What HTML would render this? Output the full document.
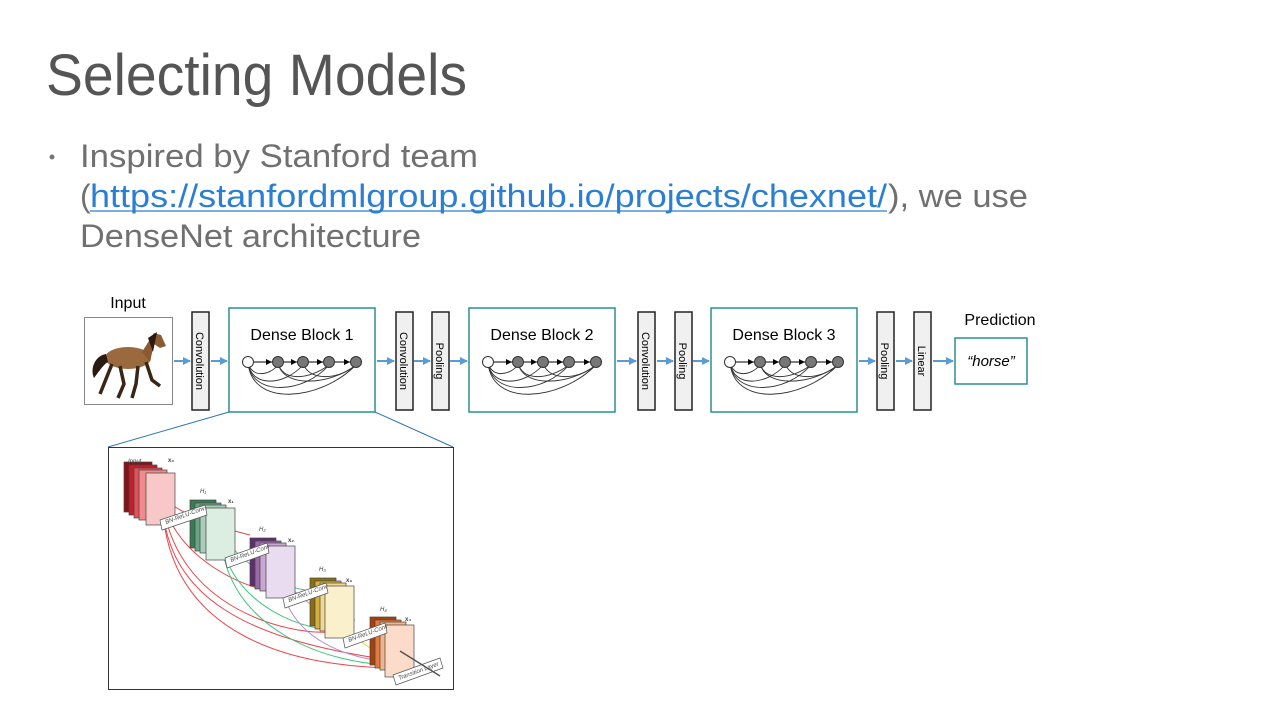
<!DOCTYPE html>
<html><head><meta charset="utf-8"><style>
html,body{margin:0;padding:0;background:#fff;}
svg{display:block;}
</style></head><body>
<svg width="1280" height="720" viewBox="0 0 1280 720" xmlns="http://www.w3.org/2000/svg" font-family="Liberation Sans, Arial, sans-serif">
<defs>
<marker id="ba" markerWidth="8" markerHeight="8" refX="7" refY="4" orient="auto" markerUnits="userSpaceOnUse"><path d="M0,0 L8,4 L0,8 z" fill="#5b9bd5"/></marker>
<marker id="ka" markerWidth="6" markerHeight="6" refX="6" refY="3" orient="auto" markerUnits="userSpaceOnUse"><path d="M0,0 L6,3 L0,6 z" fill="#000"/></marker>
<g id="dg">
  <g fill="none" stroke="#333" stroke-width="0.9">
    <path d="M19,0 C22,45 90,40 127,3"/>
    <path d="M19,0 C22,35 75,32 100,3"/>
    <path d="M19,0 C22,26 55,24 74,3"/>
    <path d="M49,0 C52,26 100,24 127,3"/>
    <path d="M49,0 C52,20 80,18 100,3"/>
    <path d="M74,0 C78,20 110,18 127,3"/>
    <path d="M19,0 C22,16 40,14 49,3"/>
  </g>
  <g stroke="#000" stroke-width="1" marker-end="url(#ka)">
    <line x1="25" y1="0" x2="43" y2="0"/><line x1="55" y1="0" x2="68" y2="0"/><line x1="80" y1="0" x2="94" y2="0"/><line x1="106" y1="0" x2="121" y2="0"/>
  </g>
  <circle cx="19" cy="0" r="5.5" fill="#fff" stroke="#333"/>
  <circle cx="49" cy="0" r="5.5" fill="#777" stroke="#333"/>
  <circle cx="74" cy="0" r="5.5" fill="#777" stroke="#333"/>
  <circle cx="100" cy="0" r="5.5" fill="#777" stroke="#333"/>
  <circle cx="127" cy="0" r="5.5" fill="#777" stroke="#333"/>
</g>
</defs>

<text x="46" y="95" font-size="58" fill="#555" textLength="421" lengthAdjust="spacingAndGlyphs">Selecting Models</text>
<circle cx="52" cy="157" r="2.5" fill="#777"/>
<g font-size="32" fill="#707070">
<text x="80" y="167" textLength="398" lengthAdjust="spacingAndGlyphs">Inspired by Stanford team</text>
<text x="80" y="207">(</text>
<text x="90" y="207" fill="#2a7fd4" textLength="797" lengthAdjust="spacingAndGlyphs">https://stanfordmlgroup.github.io/projects/chexnet/</text>
<line x1="90" y1="211" x2="887" y2="211" stroke="#2a7fd4" stroke-width="1.2"/>
<text x="888" y="207" textLength="140" lengthAdjust="spacingAndGlyphs">), we use</text>
<text x="80" y="247" textLength="341" lengthAdjust="spacingAndGlyphs">DenseNet architecture</text>
</g>

<g stroke="#5b9bd5" stroke-width="2" marker-end="url(#ba)">
<line x1="174" y1="361" x2="190" y2="361"/>
<line x1="211" y1="361" x2="227" y2="361"/>
<line x1="377" y1="361" x2="394" y2="361"/>
<line x1="414" y1="361" x2="430" y2="361"/>
<line x1="450" y1="361" x2="467" y2="361"/>
<line x1="617" y1="361" x2="636" y2="361"/>
<line x1="657" y1="361" x2="673" y2="361"/>
<line x1="693" y1="361" x2="709" y2="361"/>
<line x1="859" y1="361" x2="875" y2="361"/>
<line x1="896" y1="361" x2="912" y2="361"/>
<line x1="933" y1="361" x2="953" y2="361"/>
</g>

<text x="128" y="308" font-size="16" text-anchor="middle" fill="#000">Input</text>
<rect x="84.5" y="317.5" width="88" height="87" fill="#fff" stroke="#888"/>
<g>
<ellipse cx="128" cy="358" rx="23" ry="11" fill="#9a6a3e"/>
<path d="M142,352 L154,333 L161,335 L166,346 L160,348 L154,344 L150,362 z" fill="#8a5a32"/>
<path d="M148,338 L157,332 L153,352 z" fill="#2a1a10"/>
<path d="M106,354 C94,356 90,370 94,378 C100,370 104,364 108,362 z" fill="#2a1a10"/>
<g stroke="#3a2516" stroke-width="3.5" fill="none">
<path d="M112,364 L104,384 L100,394"/>
<path d="M120,366 L124,384 L118,398"/>
<path d="M138,366 L136,384 L132,398"/>
<path d="M146,362 L152,380 L160,386"/>
</g>
</g>

<g fill="#f0f0f0" stroke="#222" stroke-width="1.5">
<rect x="192" y="312" width="17" height="98"/>
<rect x="396" y="312" width="17" height="98"/>
<rect x="432" y="312" width="17" height="98"/>
<rect x="638" y="312" width="17" height="98"/>
<rect x="675" y="312" width="17" height="98"/>
<rect x="877" y="312" width="17" height="98"/>
<rect x="914" y="312" width="17" height="98"/>
</g>
<g font-size="11" fill="#000">
<text transform="translate(196,361) rotate(90)" text-anchor="middle">Convolution</text>
<text transform="translate(400,361) rotate(90)" text-anchor="middle">Convolution</text>
<text transform="translate(436,361) rotate(90)" text-anchor="middle">Pooling</text>
<text transform="translate(642,361) rotate(90)" text-anchor="middle">Convolution</text>
<text transform="translate(679,361) rotate(90)" text-anchor="middle">Pooling</text>
<text transform="translate(881,361) rotate(90)" text-anchor="middle">Pooling</text>
<text transform="translate(918,361) rotate(90)" text-anchor="middle">Linear</text>
</g>

<g fill="#fff" stroke="#2a9191" stroke-width="1.5">
<rect x="229" y="308" width="146" height="104"/>
<rect x="469" y="308" width="146" height="104"/>
<rect x="711" y="308" width="146" height="104"/>
<rect x="955" y="338" width="72" height="46"/>
</g>
<g font-size="16" fill="#000" text-anchor="middle">
<text x="302" y="340">Dense Block 1</text>
<text x="542" y="340">Dense Block 2</text>
<text x="784" y="340">Dense Block 3</text>
<text x="1000" y="325">Prediction</text>
<text x="991" y="366" font-style="italic" font-size="15">“horse”</text>
</g>
<use href="#dg" x="229" y="362"/>
<use href="#dg" x="469" y="362"/>
<use href="#dg" x="711" y="362"/>

<line x1="229" y1="412" x2="108" y2="447" stroke="#2e75b6" stroke-width="1"/>
<line x1="375" y1="412" x2="453" y2="447" stroke="#2e75b6" stroke-width="1"/>
<rect x="108.5" y="447.5" width="345" height="242" fill="#fff" stroke="#333"/>

<g fill="none" stroke-width="1">
<g stroke="#e8464a">
<path d="M162,498 C190,520 230,530 250,535"/>
<path d="M162,498 C175,560 250,590 270,590"/>
<path d="M162,498 C175,610 290,635 330,632"/>
<path d="M162,498 C165,640 300,668 400,668"/>
<path d="M162,498 C165,600 250,640 390,660"/>
</g>
<g stroke="#3cc47a">
<path d="M221,535 C245,565 275,585 305,590"/>
<path d="M221,535 C225,590 280,625 330,630"/>
<path d="M221,535 C225,630 330,665 395,665"/>
</g>
<g stroke="#b48ac8">
<path d="M280,575 C300,600 320,615 355,620"/>
<path d="M280,575 C285,640 350,660 395,662"/>
</g>
<g stroke="#e8d23a">
<path d="M340,613 C355,645 380,655 400,660"/>
</g>
</g>

<g stroke="#444" stroke-width="0.7">
<g><rect x="124" y="462" width="28" height="50" fill="#8b0f16"/><rect x="129" y="465" width="28" height="50" fill="#c0202a"/><rect x="134" y="468" width="28" height="50" fill="#e25258"/><rect x="139" y="470" width="28" height="50" fill="#f08a8c"/><rect x="146" y="473" width="29" height="52" fill="#f8c8c8"/></g>
<g><rect x="190" y="500" width="26" height="48" fill="#3a7a55"/><rect x="195" y="503" width="26" height="48" fill="#6aa585"/><rect x="200" y="505" width="26" height="48" fill="#a8cdb8"/><rect x="206" y="508" width="29" height="52" fill="#dcede2"/></g>
<g><rect x="250" y="538" width="26" height="48" fill="#5e2e6e"/><rect x="255" y="541" width="26" height="48" fill="#9a6aa8"/><rect x="260" y="543" width="26" height="48" fill="#c8a8d2"/><rect x="266" y="546" width="29" height="52" fill="#eadcf0"/></g>
<g><rect x="310" y="578" width="26" height="48" fill="#8a6e10"/><rect x="315" y="581" width="26" height="48" fill="#d4b040"/><rect x="320" y="583" width="26" height="48" fill="#f0d890"/><rect x="325" y="586" width="29" height="52" fill="#fbf0cc"/></g>
<g><rect x="370" y="617" width="26" height="48" fill="#a8400c"/><rect x="375" y="620" width="26" height="48" fill="#e07a40"/><rect x="380" y="622" width="26" height="48" fill="#f4b48a"/><rect x="385" y="625" width="29" height="52" fill="#fcdcc8"/></g>
</g>
<g fill="#fff" stroke="#555" stroke-width="0.7">
<polygon points="160,520 205,505 207,515 162,530"/>
<polygon points="225,558 267,543 269,553 227,568"/>
<polygon points="283,598 326,583 328,593 285,608"/>
<polygon points="343,638 385,623 387,633 345,648"/>
<polygon points="393,675 440,658 443,668 396,685"/>
</g>
<line x1="400" y1="651" x2="440" y2="676" stroke="#555" stroke-width="1.5"/>
<g font-size="6" fill="#444" font-style="italic">
<text x="128" y="463">Input</text><text x="168" y="462" font-weight="bold" font-style="normal">x₀</text>
<text x="200" y="493">H₁</text><text x="228" y="503" font-weight="bold" font-style="normal">x₁</text>
<text x="259" y="531">H₂</text><text x="288" y="542" font-weight="bold" font-style="normal">x₂</text>
<text x="319" y="571">H₃</text><text x="346" y="582" font-weight="bold" font-style="normal">x₃</text>
<text x="380" y="611">H₄</text><text x="405" y="621" font-weight="bold" font-style="normal">x₄</text>
<text transform="translate(166,524) rotate(-20)">BN-ReLU-Conv</text>
<text transform="translate(231,562) rotate(-20)">BN-ReLU-Conv</text>
<text transform="translate(289,602) rotate(-20)">BN-ReLU-Conv</text>
<text transform="translate(349,642) rotate(-20)">BN-ReLU-Conv</text>
<text transform="translate(399,680) rotate(-20)">Transition Layer</text>
</g>
</svg>
</body></html>
